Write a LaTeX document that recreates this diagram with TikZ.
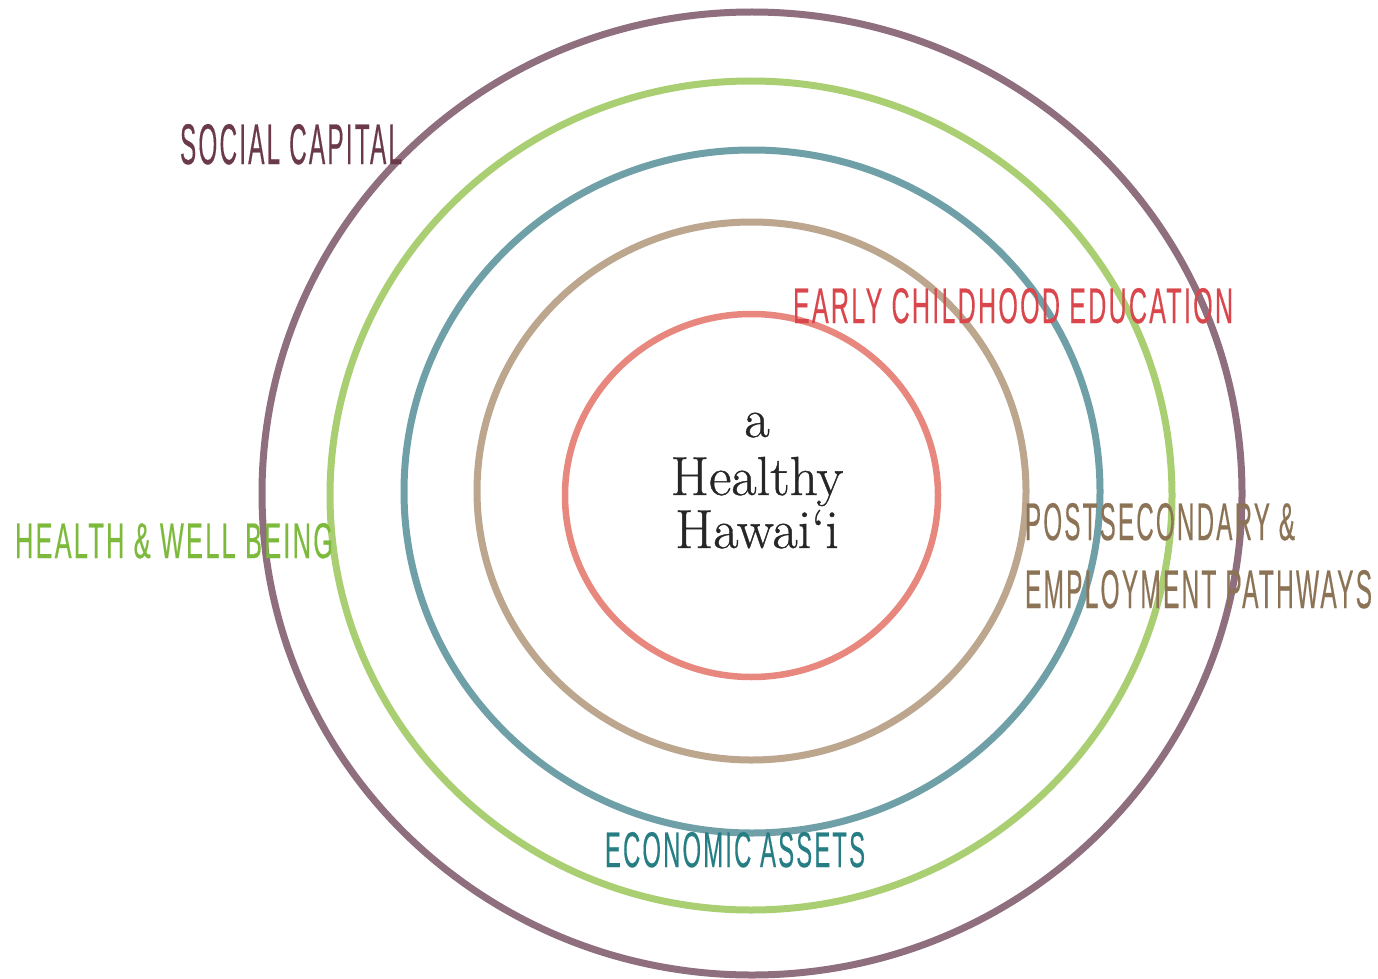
\documentclass[tikz,border=0pt]{standalone}
\usepackage{fontspec}
\usepackage{graphicx}
\newfontfamily\labelfont{Liberation Sans}[FakeBold=0.5,LetterSpace=9]
\newfontfamily\centerfont{Latin Modern Roman}[FakeBold=0.7]
\definecolor{cmauve}{HTML}{8F6E7E}
\definecolor{cgreen}{HTML}{A9CF72}
\definecolor{cblue}{HTML}{6FA0A8}
\definecolor{ctan}{HTML}{BCA68E}
\definecolor{cred}{HTML}{E8877E}
\definecolor{tmaroon}{HTML}{6B3A4A}
\definecolor{tred}{HTML}{D9464C}
\definecolor{tgreen}{HTML}{7DBA3C}
\definecolor{ttan}{HTML}{8C7356}
\definecolor{tteal}{HTML}{267E84}
\newcommand{\lbl}[3]{\resizebox{#1pt}{#2pt}{\labelfont #3}}
\begin{document}
\begin{tikzpicture}[x=1pt,y=-1pt,
  ring/.style={line width=7pt},
  lab/.style={anchor=north west,inner sep=0pt,outer sep=0pt},
  ctext/.style={anchor=base,inner sep=0pt,text=black!85,font=\centerfont\fontsize{55}{60}\selectfont}]
\useasboundingbox[fill=white] (0,0) rectangle (1378,979);
% rings
\draw[ring,cmauve] (752,493.5) ellipse [x radius=490, y radius=481.5];
\draw[ring,cgreen] (751,495.5) ellipse [x radius=421, y radius=414.5];
\draw[ring,cblue] (752,491.5) ellipse [x radius=348, y radius=341.5];
\draw[ring,ctan] (751.5,491) ellipse [x radius=274.5, y radius=269];
\draw[ring,cred,line width=6.5pt] (751.5,495.5) ellipse [x radius=186.5, y radius=181.5];
% labels
\node[lab,text=tmaroon] (social) at (180,124) {\lbl{222}{40}{SOCIAL CAPITAL}};
\node[lab,text=tred] (early) at (793,288) {\lbl{440}{35}{EARLY CHILDHOOD EDUCATION}};
\node[lab,text=tgreen] (health) at (15,523) {\lbl{318}{35}{HEALTH \& WELL BEING}};
\node[lab,text=ttan] (post) at (1025,503) {\lbl{270}{37}{POSTSECONDARY \&}};
\node[lab,text=ttan] (employ) at (1025,570) {\lbl{347}{38}{EMPLOYMENT PATHWAYS}};
\node[lab,text=tteal] (econ) at (605,832) {\lbl{260}{35}{ECONOMIC ASSETS}};
% center
\node[ctext] (a) at (757,437) {a};
\node[ctext] (healthy) at (757,495) {Healthy};
\node[ctext] (hawaii) at (757,548) {Hawai‘i};
\end{tikzpicture}
\end{document}
